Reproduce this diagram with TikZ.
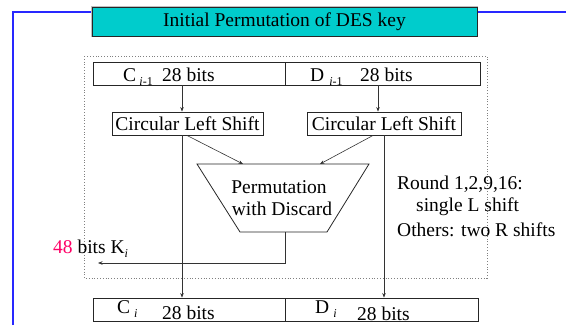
\documentclass[tikz,border=0pt]{standalone}
\usepackage{fontspec}
\IfFontExistsTF{LiberationSerif-Regular.ttf}
  {\setmainfont{LiberationSerif-Regular.ttf}[ItalicFont=LiberationSerif-Italic.ttf,BoldFont=LiberationSerif-Bold.ttf]}
  {\setmainfont{Liberation Serif}}
\usetikzlibrary{arrows.meta}
\definecolor{titlefill}{RGB}{0,204,204}
\definecolor{frameblue}{RGB}{40,40,255}
\definecolor{keypink}{RGB}{255,0,102}
\newcommand{\subtxt}[1]{\raisebox{-4pt}{\fontsize{12}{12}\selectfont #1}}
\begin{document}
\begin{tikzpicture}[x=1pt,y=-1pt,
  box/.style={draw=black!85, line width=0.9pt, inner sep=0pt, minimum height=23pt},
  txt/.style={inner sep=0pt, font=\fontsize{19.5}{22}\selectfont},
  arr/.style={draw=black!80, line width=0.6pt, -{Stealth[length=4.5pt,width=3.5pt]}},
  ln/.style={draw=black!85, line width=0.8pt}]
\useasboundingbox (0,0) rectangle (566,325);
% blue frame lines
\draw[frameblue, line width=1.2pt] (13,325) -- (13,12) -- (566,12);
% title
\node[draw=black!85, fill=titlefill, line width=0.9pt, preaction={draw=gray!50, line width=2.8pt},
      minimum width=385pt, minimum height=29pt, inner sep=0pt, font=\fontsize{19.5}{22}\selectfont]
      (title) at (284.5,21.5) {Initial Permutation of DES key};
% dotted frame
\draw[gray, dotted, line width=0.8pt] (84,56) rectangle (487,278);
% top boxes
\node[box, minimum width=192pt] (cprev) at (189,73.5) {};
\node[box, minimum width=195pt] (dprev) at (382.5,73.5) {};
\node[txt, anchor=base west] (cprevl) at (123,81) {C\,\subtxt{\textit{i}-1}};
\node[txt, anchor=base west] (cprevb) at (162,81) {28 bits};
\node[txt, anchor=base west] (dprevl) at (310,81) {D\hspace{5pt}\subtxt{\textit{i}-1}};
\node[txt, anchor=base west] (dprevb) at (360,81) {28 bits};
% circular shift boxes
\node[box, txt, draw=black!85, line width=0.9pt, minimum width=151pt, minimum height=23pt] (clsL) at (187.5,123.5) {Circular Left Shift};
\node[box, txt, draw=black!85, line width=0.9pt, minimum width=154pt, minimum height=23pt] (clsR) at (384,123.5) {Circular Left Shift};
% bottom boxes
\node[box, minimum width=192pt] (cnow) at (189,309.5) {};
\node[box, minimum width=193pt] (dnow) at (381.5,309.5) {};
\node[txt, anchor=base west] (cnowl) at (117,313) {C\hspace{4pt}\subtxt{\textit{i}}};
\node[txt, anchor=base west] (cnowb) at (162,319) {28 bits};
\node[txt, anchor=base west] (dnowl) at (315,313) {D\hspace{4pt}\subtxt{\textit{i}}};
\node[txt, anchor=base west] (dnowb) at (357,320) {28 bits};
% permutation with discard
\draw[ln] (197,164) -- (369,164) -- (327,232) -- (240,232) -- cycle;
\node[txt, anchor=base] (perm1) at (279,193) {Permutation};
\node[txt, anchor=base] (perm2) at (282,215) {with Discard};
\coordinate (pinL) at (243,164);
\coordinate (pinR) at (320,164);
\coordinate (pout) at (285,232);
\coordinate (kout) at (98,263);
% x positions of connectors
\coordinate (xa) at (182,0);
\coordinate (xb) at (378,0);
\coordinate (xc) at (384,0);
\coordinate (xd) at (187,0);
\coordinate (xe) at (373,0);
% connectors
\draw[arr] (cprev.south -| xa) -- (clsL.north -| xa);
\draw[arr] (dprev.south -| xb) -- (clsR.north -| xb);
\draw[arr] (clsL.south -| xa) -- (cnow.north -| xa);
\draw[arr] (clsR.south -| xc) -- (dnow.north -| xc);
\draw[arr] (clsL.south -| xd) -- (pinL);
\draw[arr] (clsR.south -| xe) -- (pinR);
\draw[arr] (pout) |- (kout);
% key label
\node[txt, anchor=base west] (key) at (53,253) {\textcolor{keypink}{48} bits K\subtxt{\textit{i}}};
% note
\node[txt, anchor=base west] (note1) at (397,189) {Round 1,2,9,16:};
\node[txt, anchor=base west] (note2) at (416,211) {single L shift};
\node[txt, anchor=base west] (note3) at (397,236) {Others: two R shifts};
\end{tikzpicture}
\end{document}
